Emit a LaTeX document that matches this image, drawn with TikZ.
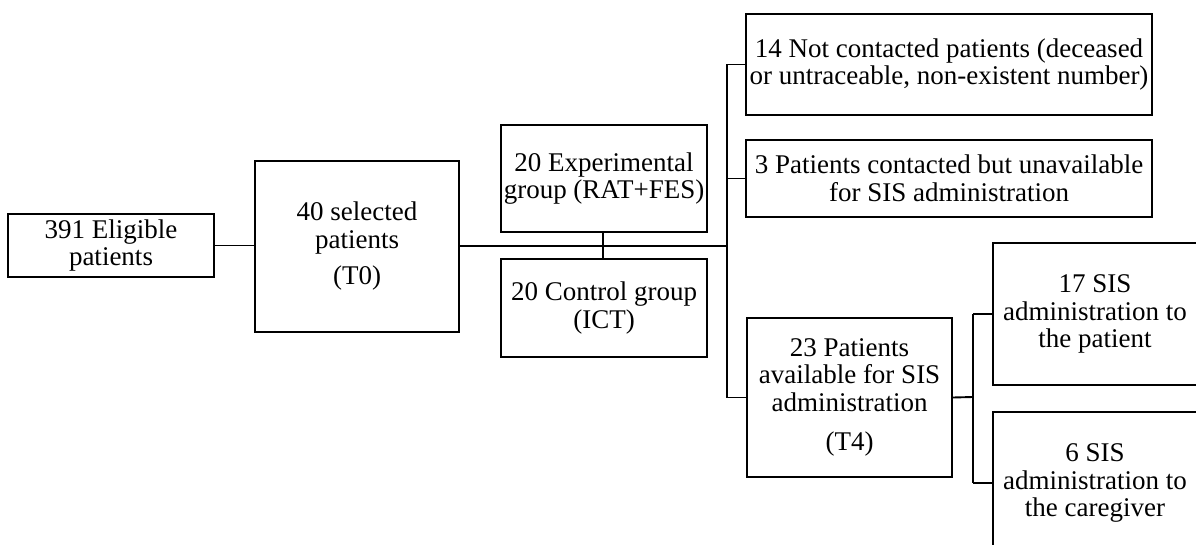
\documentclass[tikz,border=0pt]{standalone}
\usepackage{fontspec}
\setmainfont{Liberation Serif}
\begin{document}
\begin{tikzpicture}[x=1pt,y=-1pt,
  box/.style={draw, line width=1.9pt, inner sep=0pt, align=center,
    font=\fontsize{27}{27.5}\selectfont},
  link/.style={line width=1.9pt},
  trunk/.style={line width=2.8pt}]
\useasboundingbox (0,0) rectangle (1196,545);
\clip (0,0) rectangle (1196,545);

% stage boxes
\node[box, minimum width=206pt, minimum height=63pt] (elig) at (111,245.5)
  {391 Eligible\\patients};
\node[box, minimum width=204pt, minimum height=171pt] (sel) at (357,246.5)
  {40 selected\\patients\\[9pt](T0)};
\node[box, minimum width=206pt, minimum height=107pt] (exp) at (604,178.5)
  {20 Experimental\\group (RAT+FES)};
\node[box, minimum width=206pt, minimum height=98pt] (ctl) at (604,308)
  {20 Control group\\(ICT)};
\node[box, minimum width=406pt, minimum height=101pt] (notc) at (949,64.5)
  {14 Not contacted patients (deceased\\or untraceable, non-existent number)};
\node[box, minimum width=406pt, minimum height=77pt] (unav) at (949,178.5)
  {3 Patients contacted but unavailable\\for SIS administration};
\node[box, minimum width=205pt, minimum height=159pt] (avail) at (849.5,397.5)
  {23 Patients\\available for SIS\\administration\\[12pt](T4)};
\node[box, minimum width=204pt, minimum height=142pt] (pat) at (1095,314)
  {17 SIS\\administration to\\the patient};
\node[box, minimum width=204pt, minimum height=142pt] (care) at (1095,483)
  {6 SIS\\administration to\\the caregiver};

% junction points
\coordinate (tr) at (727,246);
\coordinate (mid) at (603,246);
\coordinate (sp) at (973,397);

% connectors
\draw[link] (elig.east) -- (elig.east -| sel.west);
\draw[trunk] (sel.east |- tr) -- (tr);
\draw[link] (exp.south -| mid) -- (ctl.north -| mid);
\draw[link] (notc.west -| tr) -- (avail.west -| tr);
\draw[link] (notc.west -| tr) -- (notc.west);
\draw[link] (unav.west -| tr) -- (unav.west);
\draw[link] (avail.west -| tr) -- (avail.west);
\draw[link] (avail.east) -- (sp);
\draw[link] (pat.west -| sp) -- (care.west -| sp);
\draw[link] (pat.west -| sp) -- (pat.west);
\draw[link] (care.west -| sp) -- (care.west);
\end{tikzpicture}
\end{document}
